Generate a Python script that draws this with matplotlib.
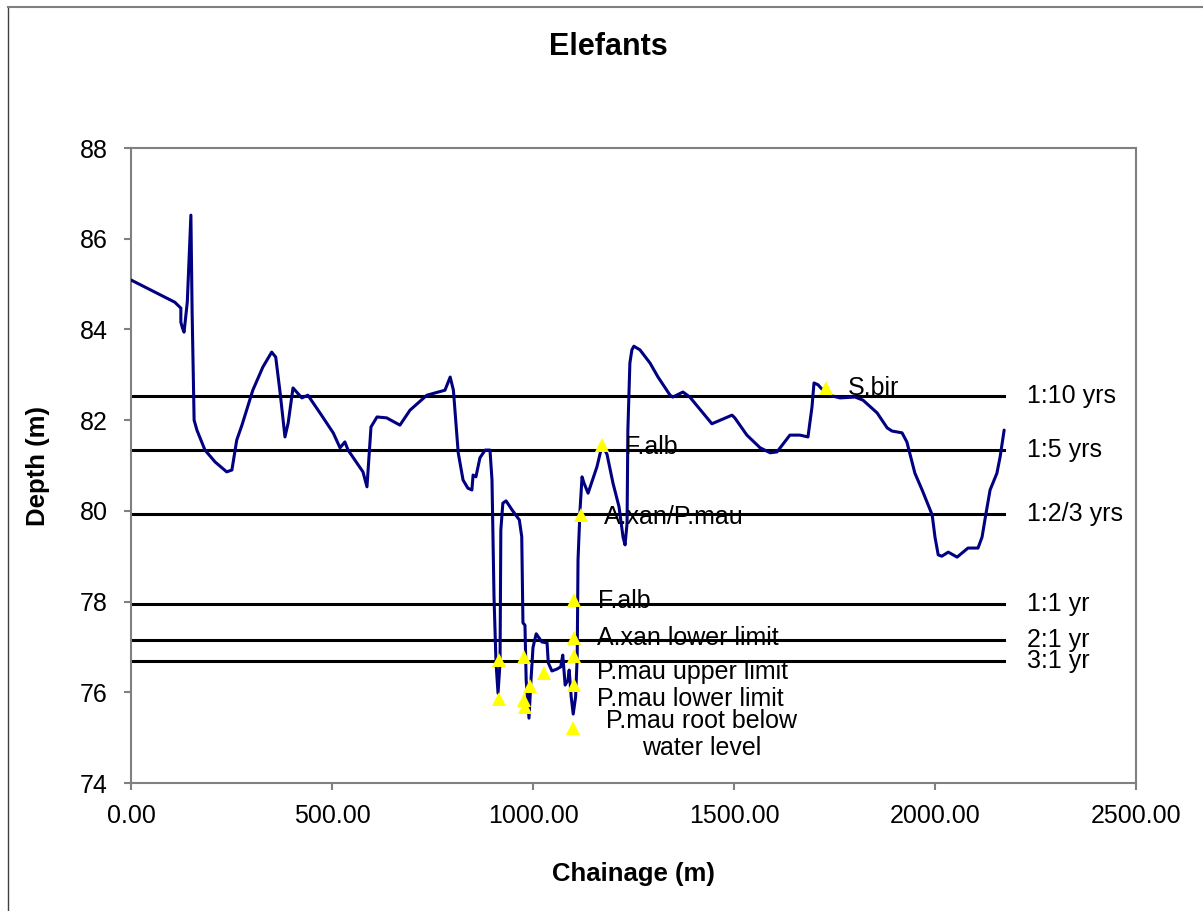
import matplotlib
matplotlib.use('Agg')
import matplotlib.pyplot as plt
from matplotlib.lines import Line2D

plt.rcParams['font.family'] = ['Liberation Sans', 'DejaVu Sans']

# bed profile: chainage (m) and depth (m)
chainage = [0, 109, 124, 124, 128, 132, 140, 149, 152, 157, 164, 184, 209, 238, 251,
            263, 276, 303, 328, 350, 360, 371, 383, 391, 403, 425, 440, 470, 503,
            520, 532, 540, 577, 587, 597, 612, 636, 669, 694, 736, 781, 794, 802,
            814, 826, 838, 848, 851, 858, 868, 881, 893, 898, 903, 908, 913, 918,
            920, 925, 933, 948, 966, 972, 975, 980, 983, 990, 995, 1000, 1008,
            1022, 1035, 1038, 1047, 1059, 1069, 1074, 1080, 1087, 1090, 1095, 1100,
            1106, 1110, 1112, 1117, 1122, 1127, 1137, 1159, 1172, 1184, 1199, 1214,
            1224, 1229, 1234, 1236, 1241, 1246, 1251, 1266, 1291, 1311, 1341, 1348,
            1373, 1390, 1445, 1495, 1502, 1532, 1565, 1590, 1607, 1639, 1664, 1684,
            1694, 1699, 1709, 1721, 1746, 1764, 1801, 1821, 1856, 1881, 1893, 1918,
            1930, 1950, 1968, 1993, 2000, 2008, 2017, 2033, 2055, 2082, 2107, 2117,
            2127, 2137, 2154, 2162, 2172]
depth = [85.09, 84.60, 84.47, 84.16, 84.03, 83.94, 84.6, 86.52, 84.4, 82.0, 81.78,
         81.34, 81.08, 80.86, 80.90, 81.56, 81.89, 82.66, 83.17, 83.50, 83.39,
         82.60, 81.63, 81.94, 82.71, 82.49, 82.55, 82.16, 81.72, 81.39, 81.52,
         81.34, 80.86, 80.53, 81.85, 82.07, 82.05, 81.89, 82.22, 82.55, 82.66,
         82.95, 82.66, 81.28, 80.68, 80.50, 80.46, 80.79, 80.75, 81.17, 81.34,
         81.34, 80.68, 78.10, 76.65, 75.98, 76.65, 79.58, 80.17, 80.22, 80.02,
         79.80, 79.43, 77.53, 77.48, 76.27, 75.43, 76.27, 76.99, 77.29, 77.11,
         77.09, 76.65, 76.47, 76.51, 76.56, 76.82, 76.16, 76.27, 76.49, 75.90,
         75.52, 75.90, 76.80, 78.92, 80.02, 80.75, 80.61, 80.39, 80.97, 81.45,
         81.25, 80.61, 80.09, 79.42, 79.25, 79.73, 81.78, 83.26, 83.55, 83.63,
         83.55, 83.26, 82.95, 82.55, 82.51, 82.62, 82.51, 81.92, 82.11, 82.05,
         81.67, 81.39, 81.28, 81.30, 81.67, 81.67, 81.63, 82.29, 82.82, 82.78,
         82.66, 82.53, 82.49, 82.51, 82.44, 82.16, 81.83, 81.76, 81.72, 81.52,
         80.83, 80.46, 79.91, 79.42, 79.03, 79.00, 79.09, 78.98, 79.18, 79.18,
         79.42, 79.95, 80.46, 80.83, 81.19, 81.78]

# flood return levels
levels = [82.53, 81.34, 79.93, 77.95, 77.15, 76.69]
level_names = ['1:10 yrs', '1:5 yrs', '1:2/3 yrs', '1:1 yr', '2:1 yr', '3:1 yr']
level_end = 2172

# vegetation points
veg_x = [915, 915, 978, 978, 980, 993, 1027, 1102, 1102, 1102, 1102, 1100, 1119, 1172, 1729]
veg_y = [76.71, 75.85, 76.78, 75.82, 75.68, 76.14, 76.43, 78.04, 77.20, 76.80, 76.16,
         75.21, 79.91, 81.45, 82.71]

# species labels
lab_text = ['S.bir', 'F.alb', 'A.xan/P.mau', 'F.alb', 'A.xan lower limit',
            'P.mau upper limit', 'P.mau lower limit']
lab_x = [1784, 1229, 1177, 1162, 1159, 1159, 1159]
lab_y = [82.71, 81.41, 79.87, 78.01, 77.20, 76.45, 75.85]

fig = plt.figure(figsize=(12.03, 9.11), dpi=100)
ax = fig.add_axes([131/1203, 1-783/911, 1005/1203, 635/911])

for lv in levels:
    ax.plot([0, level_end], [lv, lv], color='black', lw=2.2, zorder=2)
ax.plot(chainage, depth, color='#000080', lw=2.2, zorder=3,
        solid_joinstyle='round', solid_capstyle='round')
ax.plot(veg_x, veg_y, linestyle='none', marker='^', ms=10, color='#FFFF00',
        markeredgewidth=0, zorder=4)

for t, x, y in zip(lab_text, lab_x, lab_y):
    ax.text(x, y, t, fontsize=18, ha='left', va='center', zorder=5)
ax.text(1420, 75.07, 'P.mau root below\nwater level', fontsize=18, ha='center',
        va='center', linespacing=1.15, zorder=5)
for t, lv in zip(level_names, levels):
    ax.text(2229, lv, t, fontsize=18, ha='left', va='center')

ax.set_xlim(0, 2500)
ax.set_ylim(74, 88)
ax.set_xticks([0, 500, 1000, 1500, 2000, 2500])
ax.set_xticklabels(['%.2f' % v for v in [0, 500, 1000, 1500, 2000, 2500]])
ax.set_yticks(range(74, 89, 2))
ax.tick_params(labelsize=18, color='#808080', width=1.5, length=5, direction='out')
ax.tick_params(axis='y', pad=12)
ax.tick_params(axis='x', pad=10)
for s in ax.spines.values():
    s.set_color('#808080')
    s.set_linewidth(1.5)

ax.set_xlabel('Chainage (m)', fontsize=18.5, fontweight='bold')
ax.set_ylabel('Depth (m)', fontsize=18.5, fontweight='bold')
ax.xaxis.set_label_coords(0.5, -0.124)
ax.yaxis.set_label_coords(-0.0806, 0.5)

fig.text(608/1203, 1-47/911, 'Elefants', fontsize=22, fontweight='bold',
         ha='center', va='center')

# outer chart frame
fig.add_artist(Line2D([8/1203, 8/1203], [0, 1-7/911], color='#404040', lw=1,
                      transform=fig.transFigure))
fig.add_artist(Line2D([8/1203, 1], [1-7/911, 1-7/911], color='#808080', lw=1.5,
                      transform=fig.transFigure))

fig.savefig('out.png', dpi=100)
